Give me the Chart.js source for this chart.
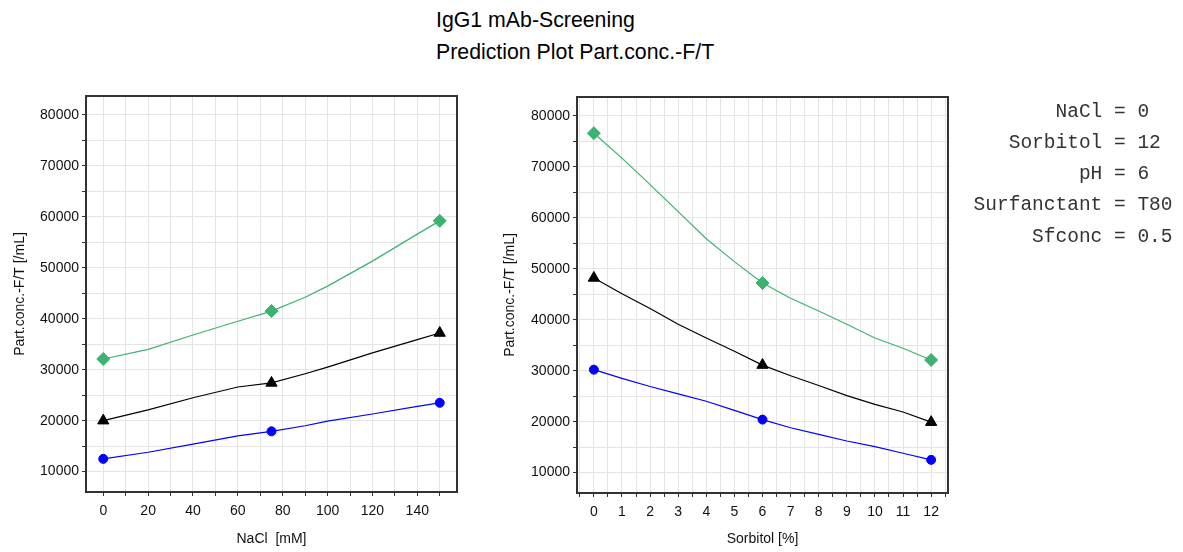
<!DOCTYPE html>
<html>
<head>
<meta charset="utf-8">
<script src="https://cdn.jsdelivr.net/npm/chart.js@4.4.1/dist/chart.umd.min.js"></script>
<style>
  body { margin: 0; background: #fff; }
  #page { position: relative; width: 1183px; height: 552px; background: #fff; overflow: hidden; }
  .box { position: absolute; top: 0; height: 552px; width: 470px; }
  #title { position: absolute; left: 436px; top: 4px; font: 21.3px "Liberation Sans", Arial, sans-serif; line-height: 32px; color: #000; }
  .fac { position: absolute; left: 0; width: 1183px; height: 24px; font: 19.5px "Courier New", "Liberation Mono", monospace; color: #333; white-space: pre; }
  .fac span.l { position: absolute; right: 80.7px; top: 0; }
  .fac span.r { position: absolute; left: 1114px; top: 0; }
</style>
</head>
<body>
<div id="page">
  <div id="title">IgG1 mAb-Screening<br>Prediction Plot Part.conc.-F/T</div>
  <div class="box" style="left:0"><canvas id="chartNacl" width="470" height="552"></canvas></div>
  <div class="box" style="left:490px"><canvas id="chartSorb" width="470" height="552"></canvas></div>
  <div id="factors"></div>
</div>
<script>
'use strict';

// NaCl panel
let naclX = [0, 20, 40, 60, 75, 90, 100, 120, 140, 150];
let naclGreen = [32100, 34000, 36800, 39500, 41500, 44200, 46400, 51300, 56600, 59200];
let naclBlack = [20000, 22100, 24500, 26600, 27400, 29200, 30500, 33300, 35900, 37200];
let naclBlue = [12500, 13800, 15400, 17000, 17900, 19000, 19900, 21300, 22800, 23500];
let naclMarks = [0, 75, 150];
let naclTicks = [0, 10, 20, 30, 40, 50, 60, 70, 80, 90, 100, 110, 120, 130, 140, 150];

// Sorbitol panel
let sorbX = [0, 1, 2, 3, 4, 5, 6, 7, 8, 9, 10, 11, 12];
let sorbGreen = [76600, 71700, 66500, 61200, 55900, 51400, 47200, 44200, 41700, 39100, 36400, 34400, 32100];
let sorbBlack = [48200, 45100, 42200, 39100, 36400, 33800, 31100, 29000, 27100, 25100, 23400, 21900, 19900];
let sorbBlue = [30200, 28500, 26900, 25450, 24000, 22200, 20400, 18800, 17500, 16200, 15100, 13800, 12500];
let sorbMarks = [0, 6, 12];
let sorbTicks = [-0.5, 0, 0.5, 1, 1.5, 2, 2.5, 3, 3.5, 4, 4.5, 5, 5.5, 6, 6.5, 7, 7.5, 8, 8.5, 9, 9.5, 10, 10.5, 11, 11.5, 12, 12.5];

let yTicks = [10000, 15000, 20000, 25000, 30000, 35000, 40000, 45000, 50000, 55000, 60000, 65000, 70000, 75000, 80000];

let factorNames = ['NaCl', 'Sorbitol', 'pH', 'Surfanctant', 'Sfconc'];
let factorValues = ['0', '12', '6', 'T80', '0.5'];

// factor settings at the right, lined up on the "="
let factors = document.getElementById('factors');
for (let i = 0; i < factorNames.length; i++) {
  let row = document.createElement('div');
  row.className = 'fac';
  row.style.top = (100.5 + i * 31.25) + 'px';
  row.innerHTML = '<span class="l">' + factorNames[i] + '</span><span class="r">= ' + factorValues[i] + '</span>';
  factors.appendChild(row);
}

function toPoints(xs, ys) {
  let pts = [];
  for (let i = 0; i < xs.length; i++) {
    pts.push({ x: xs[i], y: ys[i] });
  }
  return pts;
}

const frameBox = {
  id: 'frameBox',
  afterDatasetsDraw(chart) {
    let a = chart.chartArea;
    let ctx = chart.ctx;
    ctx.save();
    ctx.strokeStyle = '#333';
    ctx.lineWidth = 2;
    ctx.strokeRect(a.left, a.top, a.right - a.left, a.bottom - a.top);
    ctx.restore();
  }
};

const tickFont = { family: '"Liberation Sans", Arial, sans-serif', size: 14 };

function makeDataset(xs, ys, marks, color, style, radius) {
  return {
    data: toPoints(xs, ys),
    borderColor: color,
    backgroundColor: color,
    borderWidth: 1.2,
    tension: 0,
    pointStyle: style,
    pointBorderWidth: 1,
    pointRadius: (ctx) => marks.includes(ctx.raw.x) ? radius : 0,
    pointHoverRadius: 0
  };
}

function makeChart(id, xs, green, black, blue, marks, xTicks, xMin, xMax, xLabel, xFmt, yWidth, xHeight, padTop, padRight) {
  return new Chart(document.getElementById(id), {
    type: 'line',
    data: {
      datasets: [
        makeDataset(xs, green, marks, 'rgb(60,179,113)', 'rectRot', 6.5),
        makeDataset(xs, black, marks, '#000', 'triangle', 6.5),
        makeDataset(xs, blue, marks, '#0000ff', 'circle', 4.5)
      ]
    },
    options: {
      responsive: false,
      animation: false,
      layout: { padding: { top: padTop, right: padRight, bottom: 0, left: 0 } },
      plugins: { legend: { display: false }, tooltip: { enabled: false } },
      scales: {
        x: {
          type: 'linear',
          min: xMin,
          max: xMax,
          afterBuildTicks: (scale) => { scale.ticks = xTicks.map(v => ({ value: v })); },
          afterFit: (scale) => { scale.height = xHeight; },
          ticks: {
            autoSkip: false,
            maxRotation: 0,
            padding: 7,
            color: '#111',
            font: tickFont,
            callback: xFmt
          },
          grid: { color: '#e4e4e4', tickColor: '#333', tickLength: 4 },
          border: { display: false },
          title: {
            display: true,
            text: xLabel,
            color: '#111',
            font: tickFont,
            padding: { top: 0, bottom: 4 }
          }
        },
        y: {
          min: 6000,
          max: 83700,
          afterBuildTicks: (scale) => { scale.ticks = yTicks.map(v => ({ value: v })); },
          afterFit: (scale) => { scale.width = yWidth; },
          ticks: {
            padding: 3,
            color: '#111',
            font: tickFont,
            callback: (v) => v % 10000 === 0 ? String(v) : ''
          },
          grid: { color: '#e4e4e4', tickColor: '#333', tickLength: 4 },
          border: { display: false },
          title: {
            display: true,
            text: 'Part.conc.-F/T [/mL]',
            color: '#111',
            font: tickFont,
            padding: { top: 12, bottom: 0 }
          }
        }
      }
    },
    plugins: [frameBox]
  });
}

makeChart('chartNacl', naclX, naclGreen, naclBlack, naclBlue, naclMarks, naclTicks, -7.7, 157.7,
  'NaCl  [mM]', (v) => v % 20 === 0 ? String(v) : '', 86, 60, 96, 13);

makeChart('chartSorb', sorbX, sorbGreen, sorbBlack, sorbBlue, sorbMarks, sorbTicks, -0.6, 12.6,
  'Sorbitol [%]', (v) => Number.isInteger(v) ? String(v) : '', 87, 59, 97, 12);
</script>
</body>
</html>
